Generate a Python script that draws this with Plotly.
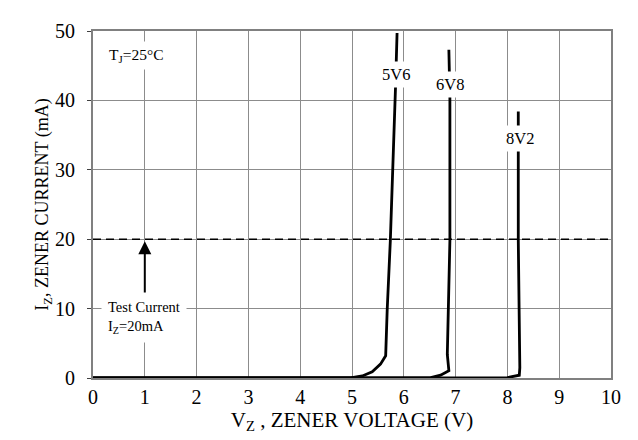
import plotly.graph_objects as go

# Data (V in volts, I in mA)
v_5v6 = [0, 4.5, 4.97, 5.2, 5.39, 5.55, 5.65, 5.68, 5.74, 5.84, 5.87]
i_5v6 = [0, 0, 0, 0.3, 0.9, 2.0, 3.2, 9.9, 19.8, 41.9, 49.7]

v_6v8 = [0, 6.0, 6.52, 6.71, 6.87, 6.84, 6.89, 6.89, 6.87]
i_6v8 = [0, 0, 0.05, 0.4, 1.05, 3.4, 19.8, 40.5, 47.3]

v_8v2 = [0, 7.6, 8.0, 8.23, 8.24, 8.21, 8.21]
i_8v2 = [0, 0, 0.05, 0.4, 1.5, 19.8, 38.4]

test_current = 20
x_ticks = list(range(0, 11))
y_ticks = [0, 10, 20, 30, 40, 50]

FONT = "Liberation Serif"

fig = go.Figure()
fig.add_trace(go.Scatter(x=[0, 10], y=[test_current, test_current], mode="lines",
                         line=dict(color="black", width=1.6, dash="8px,5px"), showlegend=False))
for vx, iy in [(v_5v6, i_5v6), (v_6v8, i_6v8), (v_8v2, i_8v2)]:
    fig.add_trace(go.Scatter(x=vx, y=iy, mode="lines",
                             line=dict(color="black", width=2.8), showlegend=False))

ann_font = dict(family=FONT, size=16.5, color="black")
annotations = [
    dict(x=5.84, y=43.8, text="5V6", showarrow=False, bgcolor="white", font=ann_font, borderpad=3),
    dict(x=6.89, y=42.3, text="6V8", showarrow=False, bgcolor="white", font=ann_font, borderpad=3),
    dict(x=8.24, y=34.5, text="8V2", showarrow=False, bgcolor="white", font=ann_font, borderpad=3),
    dict(x=0.83, y=46.4, text="T<sub>J</sub>=25°C", showarrow=False, bgcolor="white",
         font=dict(family=FONT, size=15.5, color="black"), borderpad=4),
    dict(x=1.0, y=19.7, ax=1.0, ay=11.9, xref="x", yref="y", axref="x", ayref="y",
         text="", showarrow=True, arrowhead=2, arrowsize=1.3, arrowwidth=2, arrowcolor="black"),
    dict(x=0.15, y=8.7, text="Test Current<br>I<sub>Z</sub>=20mA", showarrow=False,
         xanchor="left", align="left", bgcolor="white",
         font=dict(family=FONT, size=14.5, color="black"), borderpad=6),
]

axis_common = dict(showgrid=True, gridcolor="#8c8c8c", gridwidth=1.2, showline=True,
                   linecolor="#808080", linewidth=2, mirror=True, zeroline=False,
                   tickfont=dict(family=FONT, size=20, color="black"))

# page body has an 8px margin, so the figure is sized to fit inside the window
fig.update_layout(
    width=630, height=432,
    margin=dict(l=85, r=27, t=12, b=62),
    paper_bgcolor="white", plot_bgcolor="white",
    annotations=annotations,
    xaxis=dict(range=[0, 10], tickvals=x_ticks, ticks="", ticklen=0,
               title=dict(text="V<sub>Z</sub> , ZENER VOLTAGE (V)",
                          font=dict(family=FONT, size=21, color="black"), standoff=0),
               **axis_common),
    yaxis=dict(range=[0, 50], tickvals=y_ticks, ticks="outside", ticklen=4, tickcolor="#404040",
               ticklabelstandoff=8,
               title=dict(text="I<sub>Z</sub>, ZENER CURRENT (mA)",
                          font=dict(family=FONT, size=18, color="black"), standoff=0),
               **axis_common),
)

fig.write_html("out.html")
